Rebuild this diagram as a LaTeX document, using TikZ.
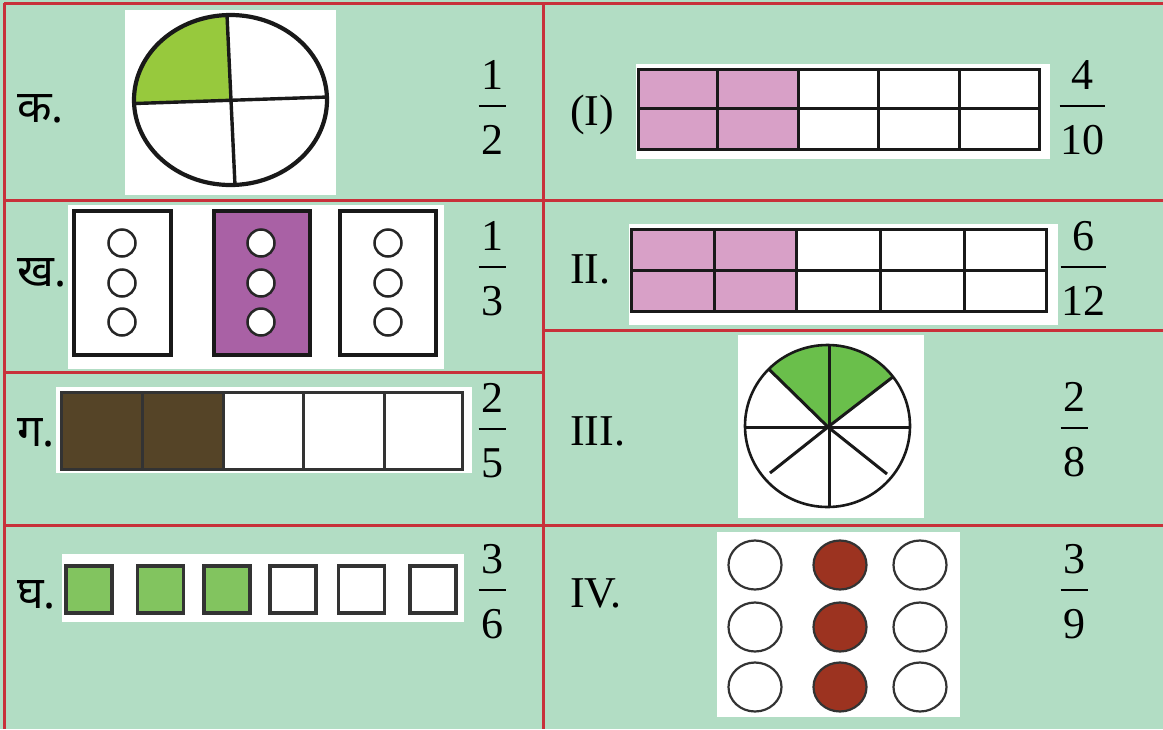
\documentclass[tikz,border=0pt]{standalone}
\usepackage{fontspec}
\setmainfont{Liberation Serif}
\newfontfamily\serifont{Liberation Serif}
\newfontfamily\devafont[Script=Devanagari]{Noto Sans}
\definecolor{bgc}{HTML}{B2DDC4}
\definecolor{gridred}{HTML}{C8303A}
\definecolor{kagreen}{HTML}{97C93D}
\definecolor{purp}{HTML}{A961A5}
\definecolor{brownc}{HTML}{554427}
\definecolor{sqgreen}{HTML}{82C45F}
\definecolor{pinkc}{HTML}{D8A0C7}
\definecolor{wheelgreen}{HTML}{6ABF4B}
\definecolor{redbrown}{HTML}{9C3320}
\newcommand\myfrac[6]{%
  \node[numtext] (#1n) at (#2,#3-17) {#4};
  \node[numtext] (#1d) at (#2,#3+48) {#5};
  \draw[barline] (#2-#6/2,#3) -- (#2+#6/2,#3);}
\begin{document}
\begin{tikzpicture}[x=1pt,y=-1pt,
  roman/.style={anchor=base west, inner sep=0pt, font=\serifont\fontsize{44}{44}\selectfont},
  deva/.style={anchor=base west, inner sep=0pt, font=\devafont\fontsize{45}{45}\selectfont},
  numtext/.style={anchor=base, inner sep=0pt, font=\serifont\fontsize{44}{44}\selectfont},
  barline/.style={line width=2pt},
  gridline/.style={draw=gridred, line width=3pt},
  picbg/.style={fill=white, draw=none},
  blk/.style={draw=black!90, line width=3pt},
  thinblk/.style={draw=black!85, line width=2.5pt},
]
\useasboundingbox (0,0) rectangle (1163,729);
\fill[bgc] (0,0) rectangle (1163,729);

% ---------- grid ----------
\draw[gridline] (4,3) -- (1163,3);
\draw[gridline] (4,3) -- (4,729);
\draw[gridline] (543,3) -- (543,729);
\draw[gridline] (4,200) -- (1163,200);
\draw[gridline] (4,372) -- (543,372);
\draw[gridline] (543,330) -- (1163,330);
\draw[gridline] (4,525) -- (1163,525);

% ---------- ka ----------
\node[deva] (lka) at (17,122) {क.};
\fill[picbg] (125,10) rectangle (336,195);
\begin{scope}
  \clip (230.5,100) ellipse [x radius=96.5, y radius=85];
  \fill[white] (120,0) rectangle (340,200);
  \fill[kagreen] (230.7,99.8) -- (226.3,0) -- (120,0) -- (120,104) -- cycle;
  \draw[blk, line width=3.4pt] (226.3,0) -- (235.5,196);
  \draw[blk, line width=3.4pt] (120,104) -- (340,96.6);
\end{scope}
\draw[blk, line width=4.2pt] (230.5,100) ellipse [x radius=96.5, y radius=85];
\myfrac{fka}{492}{106}{1}{2}{27}

% ---------- kha ----------
\node[deva] (lkha) at (17,286) {ख.};
\fill[picbg] (68,205) rectangle (444,369);
\draw[blk, line width=3.6pt, fill=white] (74,211) rectangle (171,355);
\draw[blk, line width=3.6pt, fill=purp] (214,211) rectangle (310,355);
\draw[blk, line width=3.6pt, fill=white] (340,211) rectangle (436,355);
\foreach \cx in {122,261,388}{
  \foreach \cy in {243,283,322}{
    \draw[thinblk, fill=white] (\cx,\cy) circle [radius=13.5];
  }
}
\myfrac{fkha}{492}{267}{1}{3}{27}

% ---------- ga ----------
\node[deva] (lga) at (17,446) {ग.};
\fill[picbg] (56,387) rectangle (472,473);
\fill[brownc] (61.5,392) rectangle (223,469);
\draw[blk, draw=black!80] (61.5,392) rectangle (462,469);
\foreach \gx in {142,223,303.6,384}{
  \draw[blk, draw=black!80] (\gx,392) -- (\gx,469);
}
\myfrac{fga}{492}{429}{2}{5}{27}

% ---------- gha ----------
\node[deva] (lgha) at (17,608) {घ.};
\fill[picbg] (62,554) rectangle (464,622);
\foreach \sx/\sc in {66/sqgreen,137.5/sqgreen,204/sqgreen,270/white,338.6/white,410/white}{
  \draw[blk, line width=3.4pt, draw=black!80, fill=\sc] (\sx,566) rectangle (\sx+46,613);
}
\myfrac{fgha}{492}{590}{3}{6}{27}

% ---------- (I) ----------
\node[roman] (lI) at (570,125) {(I)};
\fill[picbg] (636,64) rectangle (1050,159);
\fill[pinkc] (638,69) rectangle (798,149);
\draw[blk] (638,69) rectangle (1039,149);
\draw[blk] (638,108) -- (1039,108);
\foreach \gx in {717,798,878,959}{
  \draw[blk] (\gx,69) -- (\gx,149);
}
\myfrac{fI}{1082}{106}{4}{10}{45}

% ---------- II ----------
\node[roman] (lII) at (570,283) {II.};
\fill[picbg] (629,224) rectangle (1058,325);
\fill[pinkc] (631,229) rectangle (796,311);
\draw[blk] (631,229) rectangle (1046,311);
\draw[blk] (631,270) -- (1046,270);
\foreach \gx in {714,796,880,964}{
  \draw[blk] (\gx,229) -- (\gx,311);
}
\myfrac{fII}{1083}{267}{6}{12}{45}

% ---------- III ----------
\node[roman] (lIII) at (570,445) {III.};
\fill[picbg] (738,335) rectangle (924,518);
\begin{scope}
  \clip (827.5,426) ellipse [x radius=82.5, y radius=81];
  \fill[white] (740,340) rectangle (920,512);
  \fill[wheelgreen] (828,427) -- (712.5,314) -- (712.5,300) -- (948.5,300) -- (948.5,334) -- cycle;
  \draw[blk] (712.5,314) -- (828,427);
  \draw[blk] (948.5,334) -- (828,427);
\end{scope}
\draw[blk] (829,345) -- (829,507);
\draw[blk] (745,427) -- (910,427);
\draw[blk] (828,427) -- (770,473);
\draw[blk] (828,427) -- (887,474);
\draw[blk, line width=2.6pt] (827.5,426) ellipse [x radius=82.5, y radius=81];
\myfrac{fIII}{1074}{428}{2}{8}{27}

% ---------- IV ----------
\node[roman] (lIV) at (570,607) {IV.};
\fill[picbg] (717,532) rectangle (960,717);
\foreach \cx/\cc in {755/white,840/redbrown,920/white}{
  \foreach \cy in {565,627,687}{
    \draw[draw=black!80, line width=2.2pt, fill=\cc] (\cx,\cy) ellipse [x radius=26.5, y radius=24.5];
  }
}
\myfrac{fIV}{1074}{590}{3}{9}{27}
\end{tikzpicture}
\end{document}
